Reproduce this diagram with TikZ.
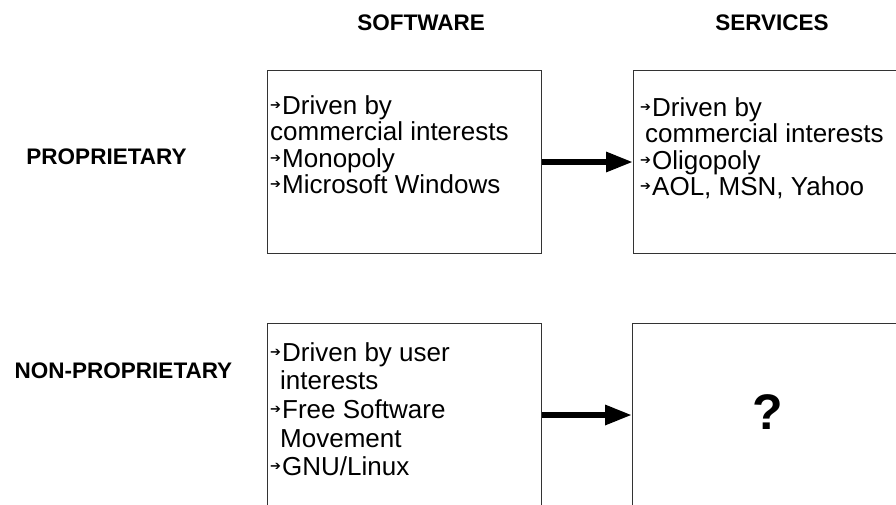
\documentclass[tikz,border=0pt]{standalone}
\usepackage{fontspec}
\setmainfont{Liberation Sans}
\newfontfamily\arrowfont{DejaVu Sans}
\usetikzlibrary{positioning,arrows.meta}
\newcommand{\bul}{\makebox[12pt][l]{\raisebox{5pt}{\fontsize{13}{13}\selectfont\arrowfont ➔}}}

\begin{document}
\begin{tikzpicture}[x=1pt,y=-1pt,
	box/.style={draw=black!80, line width=1pt, minimum width=274pt, minimum height=183pt, inner sep=0pt, anchor=north west},
	item/.style={align=left, inner sep=0pt, font=\fontsize{26}{26.5}\selectfont},
	head/.style={font=\fontsize{22.5}{24}\selectfont\bfseries},
	link/.style={line width=6pt, -{Triangle[length=27pt,width=19pt]}}]
	\useasboundingbox (0,0) rectangle (896,504);
	\clip (0,0) rectangle (896,504);

	\node[head] (sw) at (421,22.5) {SOFTWARE};
	\node[head] (sv) at (772,22.5) {SERVICES};
	\node[head] (pr) at (106.5,157) {PROPRIETARY};
	\node[head] (np) at (123.5,371) {NON-PROPRIETARY};

	\node[box] (b1) at (267,70) {};
	\node[box] (b2) at (633,70) {};
	\node[box] (b3) at (267,323) {};
	\node[box] (b4) at (632,323) {};

	\node[item, below right = 25pt and 3pt of b1.north west] (t1) {\bul Driven by\\commercial interests\\\bul Monopoly\\\bul Microsoft Windows};
	\node[item, below right = 27pt and 7pt of b2.north west] (t2) {\bul Driven by\\\hspace*{5pt}commercial interests\\\bul Oligopoly\\\bul AOL, MSN, Yahoo};
	\node[item, font=\fontsize{26}{28.7}\selectfont, below right = 19pt and 3pt of b3.north west] (t3) {\bul Driven by user\\\hspace*{10pt}interests\\\bul Free Software\\\hspace*{10pt}Movement\\\bul GNU/Linux};
	\node[font=\fontsize{50}{50}\selectfont\bfseries] (q) at (768,412) {?};

	\draw[link] (b1) -- (b2);
	\draw[link] (b3) -- (b4);

\end{tikzpicture}
\end{document}
